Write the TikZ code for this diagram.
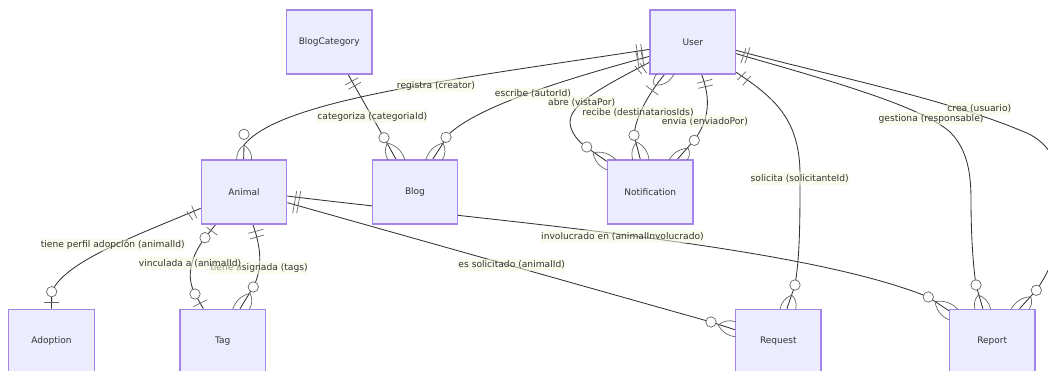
\documentclass[tikz,border=0pt]{standalone}
\usepackage{fontspec}
\setmainfont{DejaVu Sans}
\usetikzlibrary{calc,backgrounds}
\definecolor{entfill}{HTML}{ECECFF}
\definecolor{entline}{HTML}{A586E6}
\definecolor{ink}{HTML}{333333}
\definecolor{labbg}{HTML}{F2F9DE}
\definecolor{mark}{HTML}{666666}
\tikzset{
  ent/.style={draw=entline,fill=entfill,line width=1.25pt,minimum width=85.5pt,minimum height=64pt,inner sep=0pt,text=ink,font=\fontsize{9pt}{11pt}\selectfont},
  rel/.style={draw=ink,line width=0.85pt},
  mk/.style={draw=mark,line width=0.7pt},
  lab/.style={fill=labbg,fill opacity=.55,text opacity=1,text=ink,inner xsep=0pt,inner ysep=0pt,minimum height=12.5pt,font=\fontsize{9.15pt}{11pt}\selectfont},
  ring/.style={draw=mark,fill=white,line width=0.7pt,circle,minimum size=10.4pt,inner sep=0pt}
}
% circle centre, apex, foot on traveller's left, foot on traveller's right
\newcommand{\crowmark}[4]{%
  \draw[mk] (#2) to[bend left=28] (#3);
  \draw[mk] (#2) to[bend right=28] (#4);
  \node[ring] at (#1) {};}
\begin{document}
\begin{tikzpicture}[x=1pt,y=-1pt]
\useasboundingbox (0,0) rectangle (1048,371);
\clip (0,0) rectangle (1048,371);
\node[ent] (blogcat) at (329.25,42) {BlogCategory};
\node[ent] (user) at (692.75,42) {User};
\node[ent] (animal) at (244,192) {Animal};
\node[ent] (blog) at (415,192) {Blog};
\node[ent] (notif) at (650.2,192) {Notification};
\node[ent] (adoption) at (51.5,341.3) {Adoption};
\node[ent] (tag) at (222.7,341.3) {Tag};
\node[ent] (request) at (778.3,341.3) {Request};
\node[ent] (report) at (992.2,341.3) {Report};
\begin{scope}[on background layer]
\draw[rel] ($(user.north west)+(0,40)$) .. controls (450,80) and (280,100) .. (244,145) -- ($(animal.north west)+(43,0)$);
\draw[rel] ($(user.north west)+(0,47)$) .. controls (570,78) and (480,105) .. (449,134) -- ($(blog.north west)+(61,0)$);
\draw[rel] ($(user.north west)+(0,53)$) .. controls (600,88) and (569,105) .. (570,123) .. controls (571,133) and (578,141) .. (586,147) -- ($(notif.north west)+(0,2)$);
\draw[rel] ($(user.south west)+(15,0)$) .. controls (650,92) and (636,115) .. (634,135) -- ($(notif.north west)+(33.5,0)$);
\draw[rel] ($(user.south west)+(52.3,0)$) .. controls (708,92) and (713,115) .. (694.3,140) -- ($(notif.north west)+(70.5,0)$);
\draw[rel] ($(user.south east)+(0,-2.3)$) .. controls (775,98) and (800,120) .. (800,175) .. controls (800,220) and (800,255) .. (795,285) -- ($(request.north west)+(52,0)$);
\draw[rel] ($(user.north east)+(0,44.3)$) .. controls (820,78) and (920,105) .. (950,132) .. controls (968,150) and (971,175) .. (971,200) .. controls (971,235) and (973,265) .. (976,285) -- ($(report.north west)+(34,0)$);
\draw[rel] ($(user.north east)+(0,41)$) .. controls (840,78) and (950,100) .. (1026.7,133) .. controls (1075,154) and (1075,235) .. (1036.3,290.3) -- ($(report.north west)+(70.7,0)$);
\draw[rel] ($(animal.north west)+(0,49)$) .. controls (130,238) and (65,262) .. (51.7,291.7) -- (adoption.north);
\draw[rel] ($(animal.south west)+(15,0)$) -- (205,237.7) .. controls (192,255) and (185,275) .. (195,294) -- ($(tag.north west)+(24,0)$);
\draw[rel] ($(animal.south west)+(52.3,0)$) .. controls (262,250) and (262,270) .. (253.3,287) -- ($(tag.north west)+(60.7,0)$);
\draw[rel] ($(blogcat.south west)+(62.3,0)$) -- (384,137.7) -- ($(blog.north west)+(24.5,0)$);
\draw[rel] ($(animal.north east)+(0,36.7)$) .. controls (500,222) and (800,245) .. (928.3,297) -- ($(report.north west)+(0,2)$);
\draw[rel] ($(animal.north east)+(0,43.3)$) -- (711,322) -- ($(request.north west)+(0,21)$);
\end{scope}
% one-side ticks
\draw[mk] (636,44)--(638.3,59.3); \draw[mk] (640.7,44)--(643.3,59.3);
\draw[mk] (636,52)--(639,67); \draw[mk] (641,51)--(644,66);
\draw[mk] (635,66)--(641.7,74); \draw[mk] (640,63.3)--(646.7,73.3);
\draw[mk] (646,85.7)--(658.3,95);
\draw[mk] (697.3,83.3)--(712.3,79.3); \draw[mk] (698.3,88.3)--(712.7,85);
\draw[mk] (737.3,80)--(746,71.7); \draw[mk] (742.7,85.3)--(750.7,76);
\draw[mk] (740.7,63.3)--(746,48.3); \draw[mk] (745,63.3)--(750,47.3);
\draw[mk] (186.7,211)--(192.7,220); \draw[mk] (191.7,205.7)--(196.7,218.3);
\draw[mk] (206.7,227.3)--(217.3,235);
\draw[mk] (193.3,306.7)--(206.7,300);
\draw[mk] (44.3,302)--(59,302);
\draw[mk] (248.3,233.3)--(263.3,229.3); \draw[mk] (250,239)--(264,235);
\draw[mk] (345,85)--(358.3,77.7); \draw[mk] (348.3,89.3)--(361,82.3);
\draw[mk] (296.7,191)--(292.7,213.3); \draw[mk] (300.7,191)--(296.7,213.3);
% many-side marks
\crowmark{244,134.3}{244,145}{251.7,160}{236.7,160}
\crowmark{384,137.7}{387.3,143}{405,160}{388,160}
\crowmark{446,137.3}{443,143}{442.3,160}{425.7,160}
\crowmark{586.7,147}{593,152.7}{616,160}{607.3,170}
\crowmark{634,135.3}{636.7,142}{649,160}{632.7,160}
\crowmark{694.3,140.3}{688.3,148.3}{687.3,160}{669,160}
\crowmark{795,285}{791.7,295}{795.7,309.3}{780,309.3}
\crowmark{976,285}{978.3,295}{990.7,309.3}{975,309.3}
\crowmark{1036.3,290.3}{1030.7,296.7}{1029,309.3}{1011,309.3}
\crowmark{928.3,297}{935,301.7}{957.7,309.3}{949.3,320}
\crowmark{711,322}{718.3,325}{735.5,321.7}{735.5,336.7}
\crowmark{253.3,287}{250,293.3}{249.3,309.3}{232.7,309.3}
\draw[mk] (654,85) to[bend left=28] (656.7,74);
\draw[mk] (654,85) to[bend right=35] (674,74);
\node[ring] at (51.7,291.7) {};
\node[ring] at (205,237.7) {};
\node[ring] at (195,294) {};
% labels
\node[lab] (l1) at (436,85.7) {registra (creator)};
\node[lab] (l2) at (372.3,116.7) {categoriza (categoriaId)};
\node[lab] (l3) at (533,94) {escribe (autorId)};
\node[lab] (l6) at (704.8,121) {envía (enviadoPor)};
\node[lab] (l4) at (581.7,102.7) {abre (vistaPor)};
\node[lab] (l5) at (638,112.7) {recibe (destinatariosIds)};
\node[lab] (l7) at (799.7,178.3) {solicita (solicitanteId)};
\node[lab] (l8) at (979.3,108.7) {crea (usuario)};
\node[lab] (l9) at (931,118.7) {gestiona (responsable)};
\node[lab] (l10) at (622.5,236.7) {involucrado en (animalInvolucrado)};
\node[lab] (l11) at (511.7,265) {es solicitado (animalId)};
\node[lab] (l12) at (112.8,245) {tiene perfil adopción (animalId)};
\node[lab] (l13) at (259,267.7) {tiene asignada (tags)};
\node[lab] (l14) at (190,263.3) {vinculada a (animalId)};
\end{tikzpicture}
\end{document}
